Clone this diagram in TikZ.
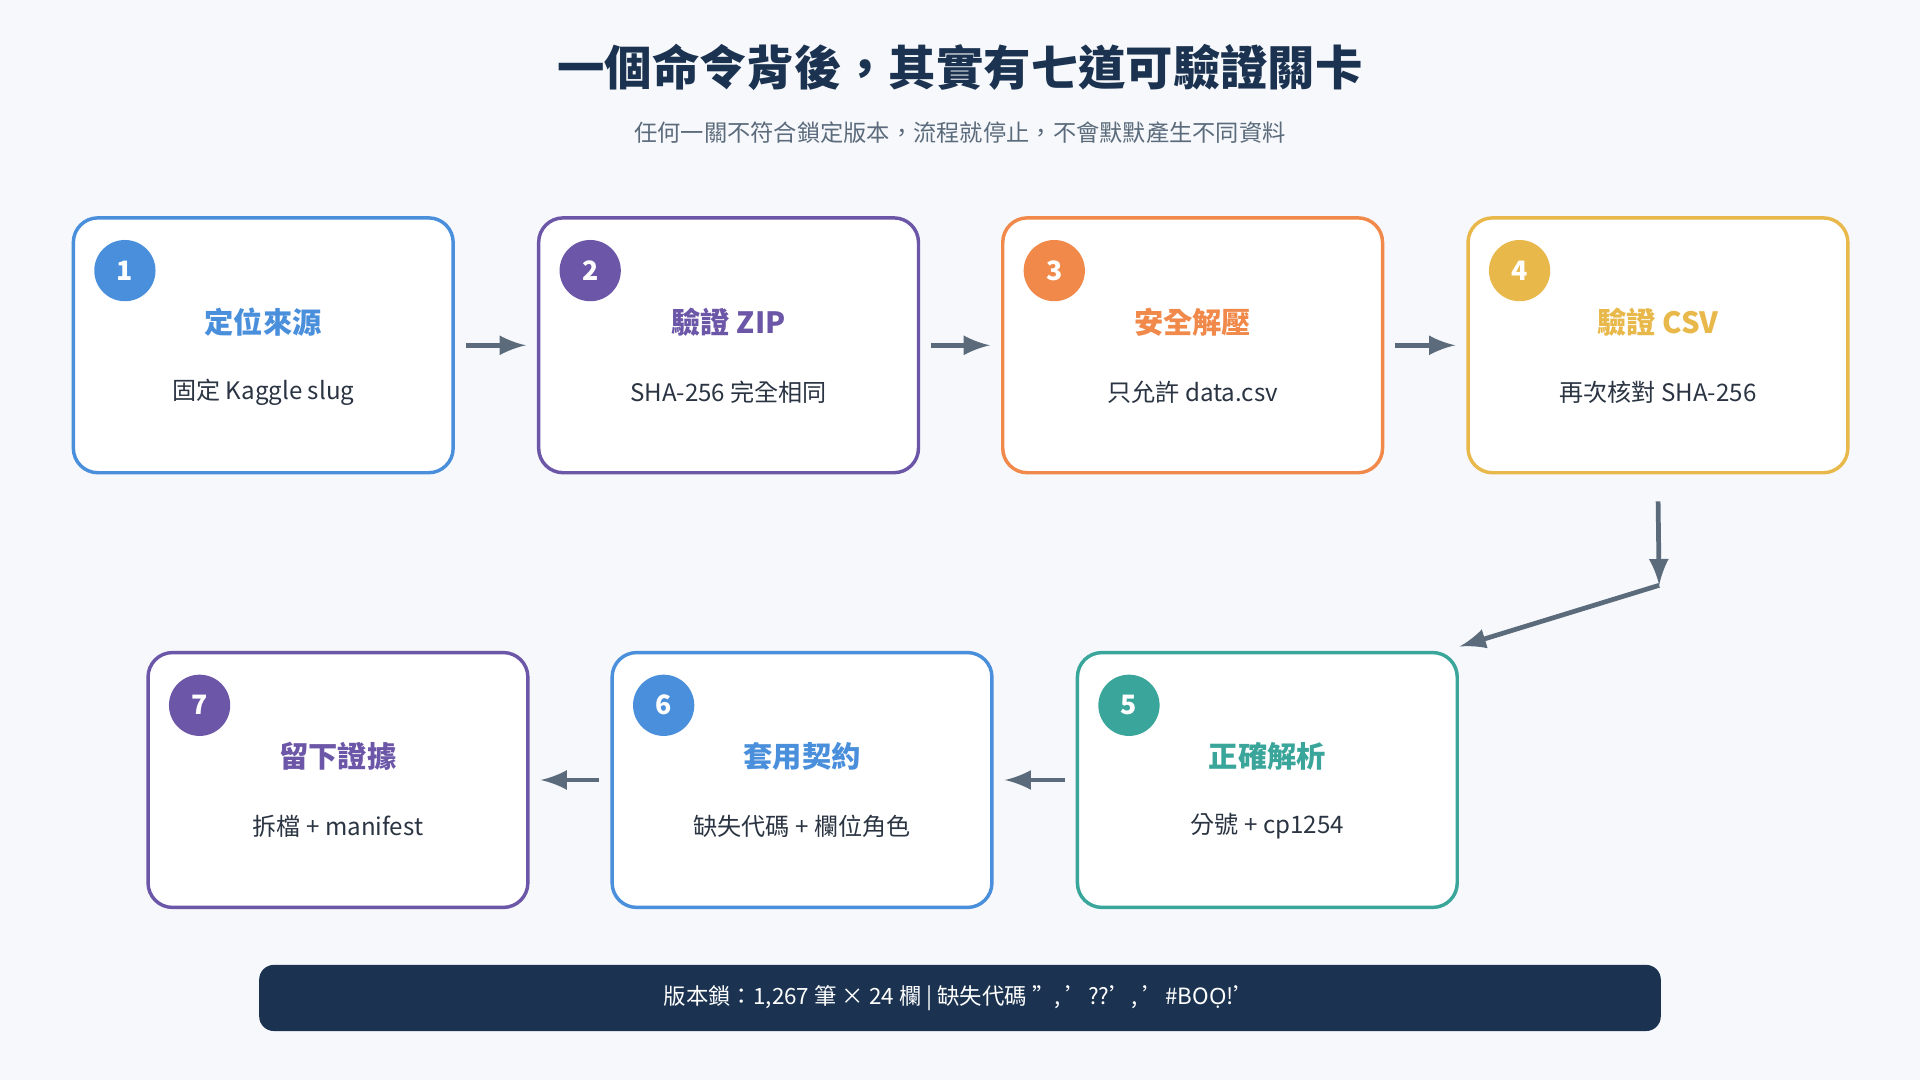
\documentclass[tikz,border=0pt]{standalone}
\usepackage{fontspec}
\setmainfont{Noto Sans CJK TC}
\newfontfamily\latinf{Noto Sans}
\usetikzlibrary{positioning}
\definecolor{bgc}{HTML}{F6F8FB}
\definecolor{ink}{HTML}{1B3350}
\definecolor{txt}{HTML}{2A3442}
\definecolor{arr}{HTML}{5B6B7B}
\definecolor{cblue}{HTML}{4A8FDB}
\definecolor{cpurp}{HTML}{6C56A8}
\definecolor{corng}{HTML}{F0894A}
\definecolor{cyell}{HTML}{E8B84A}
\definecolor{cteal}{HTML}{3AA59A}
\begin{document}
\begin{tikzpicture}[x=0.01cm, y=-0.01cm,
    box/.style={
        draw,
        line width=0.8pt,
        rounded corners=0.2cm,
        fill=white,
        minimum width=3.1cm,
        minimum height=2.08cm
    },
    badge/.style={
        circle,
        minimum size=0.5cm,
        inner sep=0pt,
        text=white,
        font=\fontsize{6.2}{7}\selectfont\bfseries
    },
    head/.style={font=\fontsize{6.8}{8}\selectfont\bfseries},
    body/.style={font=\fontsize{5.6}{7}\selectfont, text=txt},
    arrow/.style={
        -latex,
        line width=1.1pt,
        arr,
        shorten <=0.09cm,
        shorten >=0.09cm
    }
]
    \fill[bgc] (0,0) rectangle (1568,882);

    % Title
    \node[font=\fontsize{11}{13}\selectfont\bfseries, text=ink] (title) at (784,55) {一個命令背後，其實有七道可驗證關卡};
    \node[font=\fontsize{5.4}{7}\selectfont, text=arr] (sub) at (784,108) {任何一關不符合鎖定版本，流程就停止，不會默默產生不同資料};

    % Steps
    \foreach \n/\x/\y/\col/\hd/\bd in {
        1/215/282/cblue/定位來源/固定 Kaggle slug,
        2/595/282/cpurp/驗證 ZIP/SHA-256 完全相同,
        3/974/282/corng/安全解壓/只允許 data.csv,
        4/1354/282/cyell/驗證 CSV/再次核對 SHA-256,
        5/1035/637/cteal/正確解析/分號 + cp1254,
        6/655/637/cblue/套用契約/缺失代碼 + 欄位角色,
        7/276/637/cpurp/留下證據/拆檔 + manifest} {
        \node[box, draw=\col] (b\n) at (\x,\y) {};
        \node[badge, fill=\col] (n\n) at (\x-113,\y-61) {\n};
        \node[head, text=\col] (h\n) at (\x,\y-19) {\hd};
        \node[body] (t\n) at (\x,\y+38) {\bd};
    }

    % Connecting arrows
    \draw[arrow] (b1) -- (b2);
    \draw[arrow] (b2) -- (b3);
    \draw[arrow] (b3) -- (b4);
    \coordinate (bend) at (1355,478);
    \coordinate (end5) at (1192,528);
    \draw[arrow, shorten >=0pt] ([yshift=-0.13cm]b4.south) -- (bend);
    \draw[arrow, shorten <=0pt, shorten >=0pt] (bend) -- (end5);
    \draw[arrow] (b5) -- (b6);
    \draw[arrow] (b6) -- (b7);

    % Footer
    \node[fill=ink, rounded corners=0.12cm, minimum width=11.44cm, minimum height=0.54cm, text=white, font=\fontsize{5.2}{7}\selectfont] (foot) at (784,815) {版本鎖：1,267 筆 × 24 欄 | 缺失代碼 '', '??', '\#BO{\latinf Ọ}!'};
\end{tikzpicture}
\end{document}
